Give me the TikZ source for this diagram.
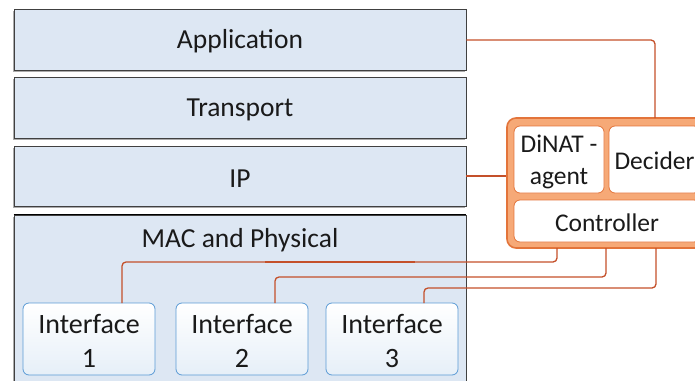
\documentclass[tikz,border=0pt]{standalone}
\usepackage{fontspec}
\setmainfont{Carlito}
\usetikzlibrary{shadows,calc}
\definecolor{layerfill}{HTML}{DDE7F3}
\definecolor{layerdraw}{HTML}{404040}
\definecolor{wirec}{HTML}{C4502A}
\definecolor{orfill}{HTML}{F6A977}
\definecolor{ordraw}{HTML}{E3743A}
\definecolor{ifdraw}{HTML}{5B9BD5}
\definecolor{iffill}{HTML}{E6EFF8}
\definecolor{txt}{HTML}{1A1A1A}
\tikzset{
  layer/.style={draw=layerdraw, line width=0.8pt, fill=layerfill, minimum width=452pt, inner sep=0pt,
    drop shadow={shadow xshift=-1.2pt, shadow yshift=-1.5pt, opacity=0.55, fill=black!60}},
  lbl/.style={text=txt, font=\fontsize{27.5}{32}\selectfont},
  orbox/.style={draw=ordraw, line width=1.6pt, fill=orfill, rounded corners=9pt, inner sep=0pt},
  inbox/.style={draw=ordraw, line width=0.8pt, fill=white, rounded corners=6pt, inner sep=0pt, align=center,
    text=txt, font=\fontsize{25.5}{32}\selectfont},
  ifbox/.style={draw=ifdraw, line width=0.8pt, top color=white, bottom color=iffill, rounded corners=6pt,
    minimum width=132pt, minimum height=72pt, inner sep=0pt},
  iftxt/.style={inner sep=0pt, align=center, text=txt, font=\fontsize{28}{34}\selectfont},
  wire/.style={draw=wirec, line width=1.3pt, rounded corners=4pt},
}
\begin{document}
\begin{tikzpicture}[x=1pt,y=-1pt]
\useasboundingbox (0,0) rectangle (695,380);
\clip (0,0) rectangle (695,380);
% layers
\node[layer, minimum height=61pt] (app) at (240,39.5) {};
\node[lbl] (applbl) at (240,41.5) {Application};
\node[layer, minimum height=61pt] (trans) at (240,107.5) {};
\node[lbl] (translbl) at (240,109.5) {Transport};
\node[layer, minimum height=60pt] (ip) at (240,176) {};
\node[lbl] (iplbl) at (240,178.5) {IP};
\node[layer, minimum height=185pt] (mac) at (240,307.5) {};
\draw[black, line width=1.6pt] (mac.north west) -- (mac.north east);
\node[lbl] (maclbl) at (240,240.5) {MAC and Physical};
% interfaces
\node[ifbox] (if1) at (89,339) {};
\node[iftxt] (if1t) at (89,340.5) {Interface\\1};
\node[ifbox] (if2) at (242,339) {};
\node[iftxt] (if2t) at (242,340.5) {Interface\\2};
\node[ifbox] (if3) at (392,339) {};
\node[iftxt] (if3t) at (392,340.5) {Interface\\3};
% DiNAT block
\node[orbox, minimum width=213pt, minimum height=130pt] (ob) at (613.5,183) {};
\node[inbox, minimum width=90pt, minimum height=67pt] (agent) at (559,159.5) {};
\node[inbox, draw=none, fill=none] (agentt) at (559,161.5) {DiNAT -\\agent};
\node[inbox, minimum width=91pt, minimum height=67pt] (decider) at (654.5,159.5) {};
\node[inbox, draw=none, fill=none] (decidert) at (654.5,161) {Decider};
\node[inbox, minimum width=186pt, minimum height=42pt] (ctrl) at (607,221) {};
\node[inbox, draw=none, fill=none] (ctrlt) at (607,222.5) {Controller};
% connection points
\coordinate (obtop) at (655,118);
\coordinate (c1) at (557,248);
\coordinate (c2) at (606,248);
\coordinate (c3) at (656,248);
\coordinate (i1) at (122,303);
\coordinate (i2) at (275,303);
\coordinate (i3) at (424,303);
% wires
\draw[wire] (app.east |- 0,40) -| (obtop);
\draw[wire] (ip.east) -- (ob.west |- ip.east);
\draw[wire] (c1) -- (557,262) -| (i1);
\draw[wire] (c2) -- (606,277) -| (i2);
\draw[wire] (c3) -- (656,288) -| (i3);
\draw[draw=wirec, line width=2.4pt] (265,262) -- (415,262);
\end{tikzpicture}
\end{document}
